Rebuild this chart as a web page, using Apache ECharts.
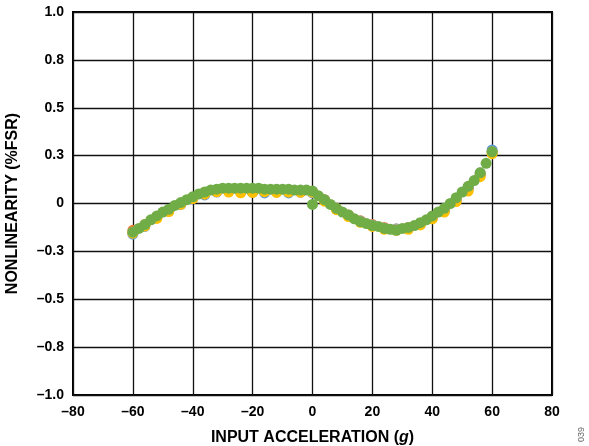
<!DOCTYPE html>
<html>
<head>
<meta charset="utf-8">
<script src="https://cdn.jsdelivr.net/npm/echarts@6/dist/echarts.min.js"></script>
<style>
html,body{margin:0;padding:0;background:#fff;}
#chart{width:589px;height:446px;}
</style>
</head>
<body>
<div id="chart"></div>
<script>
// X positions (g)
var xFine = [-60,-58,-56,-54,-52,-50,-48,-46,-44,-42,-40,-38,-36,-34,-32,-30,-28,-26,-24,-22,-20,-18,-16,-14,-12,-10,-8,-6,-4,-2,0,0,2,4,6,8,10,12,14,16,18,20,22,24,26,28,30,32,34,36,38,40,42,44,46,48,50,52,54,56,58,60];
var xCoarse = [-60,-56,-52,-48,-44,-40,-36,-32,-28,-24,-20,-16,-12,-8,-4,0,4,8,12,16,20,24,28,32,36,40,44,48,52,56,60];

// Nonlinearity (%FSR)
var greenY = [-0.15,-0.13,-0.11,-0.085,-0.065,-0.045,-0.03,-0.01,0.005,0.02,0.035,0.05,0.06,0.07,0.075,0.08,0.08,0.08,0.08,0.08,0.08,0.08,0.075,0.075,0.075,0.075,0.075,0.07,0.07,0.07,0.065,-0.005,0.04,0.02,-0.005,-0.025,-0.045,-0.06,-0.08,-0.095,-0.105,-0.115,-0.12,-0.13,-0.135,-0.14,-0.13,-0.125,-0.115,-0.1,-0.085,-0.065,-0.045,-0.025,0.0,0.03,0.06,0.09,0.12,0.16,0.21,0.27];
var blueY = [-0.16,-0.12,-0.075,-0.04,-0.005,0.025,0.045,0.06,0.065,0.06,0.06,0.055,0.06,0.055,0.06,0.055,0.015,-0.03,-0.065,-0.095,-0.115,-0.13,-0.135,-0.13,-0.11,-0.075,-0.04,0.015,0.075,0.15,0.28];
var orangeY = [-0.14,-0.11,-0.07,-0.035,0.0,0.03,0.05,0.065,0.07,0.07,0.07,0.065,0.065,0.065,0.06,0.06,0.02,-0.025,-0.06,-0.09,-0.11,-0.125,-0.135,-0.125,-0.105,-0.07,-0.035,0.02,0.08,0.15,0.27];
var grayY = [-0.15,-0.115,-0.072,-0.038,0.0,0.028,0.05,0.062,0.068,0.06,0.058,0.062,0.062,0.062,0.062,0.058,0.018,-0.028,-0.062,-0.092,-0.112,-0.128,-0.132,-0.128,-0.108,-0.078,-0.04,0.02,0.085,0.16,0.27];
var yellowY = [-0.155,-0.118,-0.078,-0.042,-0.004,0.026,0.05,0.062,0.06,0.056,0.058,0.062,0.058,0.06,0.06,0.06,0.012,-0.032,-0.068,-0.098,-0.12,-0.135,-0.14,-0.135,-0.112,-0.08,-0.045,0.01,0.065,0.14,0.26];

// Tick labels
var yTickValues = [-1, -0.75, -0.5, -0.25, 0, 0.25, 0.5, 0.75, 1];
var yTickLabels = ['\u20131.0','\u20130.8','\u20130.5','\u20130.3','0','0.3','0.5','0.8','1.0'];

function pairs(xs, ys){ return xs.map(function(x,i){ return [x, ys[i]]; }); }

var chart = echarts.init(document.getElementById('chart'), null, {renderer:'canvas'});
var font = 'Arial, "Liberation Sans", sans-serif';
function ser(name, color, data){
  return {name:name, type:'scatter', data:data, symbol:'circle', symbolSize:11,
    itemStyle:{color:color, opacity:1}, emphasis:{disabled:true}, animation:false};
}
chart.setOption({
  animation:false,
  grid:{left:73, right:37, top:12, bottom:51, show:true, borderColor:'#000', borderWidth:2, backgroundColor:'transparent', containLabel:false, outerBoundsMode:'none'},
  xAxis:{type:'value', min:-80, max:80, interval:20,
    axisLine:{show:false}, axisTick:{show:false},
    splitLine:{show:true, lineStyle:{color:'#111', width:1.3}},
    axisLabel:{fontFamily:font, fontWeight:'bold', fontSize:14, color:'#000', margin:10,
      formatter:function(v){ return v<0 ? '\u2013'+Math.abs(v) : String(v); }},
    name:'{a|INPUT ACCELERATION (}{b|g}{a|)}', nameLocation:'middle', nameGap:35,
    nameTextStyle:{rich:{a:{fontFamily:font, fontWeight:'bold', fontSize:16, color:'#000'},
                         b:{fontFamily:font, fontWeight:'bold', fontStyle:'italic', fontSize:16, color:'#000'}}}
  },
  yAxis:{type:'value', min:-1, max:1, interval:0.25,
    axisLine:{show:false}, axisTick:{show:false},
    splitLine:{show:true, lineStyle:{color:'#111', width:1.3}},
    axisLabel:{fontFamily:font, fontWeight:'bold', fontSize:14, color:'#000', margin:9,
      formatter:function(v){ var i=yTickValues.findIndex(function(t){return Math.abs(t-v)<1e-9;}); return i>=0?yTickLabels[i]:''; }},
    name:'NONLINEARITY (%FSR)', nameLocation:'middle', nameGap:52,
    nameTextStyle:{fontFamily:font, fontWeight:'bold', fontSize:16, color:'#000'}
  },
  graphic:[{type:'text', left:577, top:427, rotation:Math.PI/2,
    style:{text:'039', font:'9px Arial, "Liberation Sans", sans-serif', fill:'#666'}}],
  series:[
    ser('blue','#5B9BD5',pairs(xCoarse,blueY)),
    ser('orange','#ED7D31',pairs(xCoarse,orangeY)),
    ser('gray','#A5A5A5',pairs(xCoarse,grayY)),
    ser('yellow','#FFC000',pairs(xCoarse,yellowY)),
    ser('green','#70AD47',pairs(xFine,greenY))
  ]
});
</script>
</body>
</html>
